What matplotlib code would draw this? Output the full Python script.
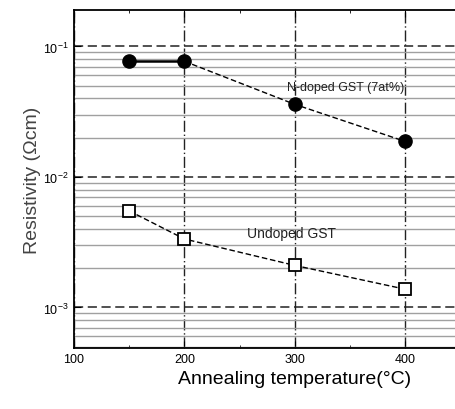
import numpy as np
import matplotlib.pyplot as plt
from matplotlib.ticker import LogLocator, NullFormatter, MultipleLocator

plt.rcParams['font.family'] = ['Liberation Sans', 'DejaVu Sans']

# data
temp = [150, 200, 300, 400]
n_doped = [0.077, 0.077, 0.036, 0.0187]
undoped = [0.0055, 0.00335, 0.0021, 0.00138]

fig = plt.figure(figsize=(4.56, 4.10), dpi=100)
ax = fig.add_axes([0.162, 0.149, 0.969, 0.824])

ax.set_yscale('log')
ax.set_xlim(100, 500)
ax.set_ylim(4.9e-4, 0.19)

# grid
ax.yaxis.set_major_locator(LogLocator(base=10, numticks=10))
ax.yaxis.set_minor_locator(LogLocator(base=10, subs=np.arange(2, 10), numticks=10))
ax.yaxis.set_minor_formatter(NullFormatter())
ax.xaxis.set_major_locator(MultipleLocator(100))
ax.xaxis.set_minor_locator(MultipleLocator(50))
ax.grid(which='minor', axis='y', color='#a0a0a0', lw=1.0, ls='-')
ax.grid(which='major', axis='y', color='#222222', lw=1.1, ls=(0, (6, 3)))
ax.grid(which='major', axis='x', color='#222222', lw=1.0, ls=(0, (8, 2, 1, 2)))

# N-doped: solid first segment, dashed after
ax.plot(temp[:2], n_doped[:2], '-', color='black', lw=1.8, zorder=3)
ax.plot(temp[1:], n_doped[1:], '--', color='black', lw=1.0, dashes=(4, 2), zorder=3)
ax.plot(temp, n_doped, 'o', color='black', ms=9.5, zorder=4)

ax.plot(temp, undoped, '--', color='black', lw=1.0, dashes=(4, 2), zorder=3)
ax.plot(temp, undoped, 's', mfc='white', mec='black', mew=1.3, ms=8.5, zorder=4)

ax.text(293, 0.049, 'N-doped GST (7at%)', fontsize=9, color='#222222', va='center')
ax.text(257, 0.0037, 'Undoped GST', fontsize=10, color='#222222', va='center')

ax.set_xticks([100, 200, 300, 400])
ax.tick_params(which='both', direction='in', labelsize=9, top=True)
ax.tick_params(which='major', length=5)
ax.tick_params(which='minor', length=2)
ax.tick_params(axis='y', which='minor', length=0)
ax.spines['right'].set_visible(False)
for s in ['left', 'top', 'bottom']:
    ax.spines[s].set_linewidth(1.3)

ax.set_xlabel('Annealing temperature(°C)', fontsize=14, labelpad=4)
ax.set_ylabel('Resistivity (Ωcm)', fontsize=14, color='#444444', labelpad=2)

fig.savefig('out.png', dpi=100)
